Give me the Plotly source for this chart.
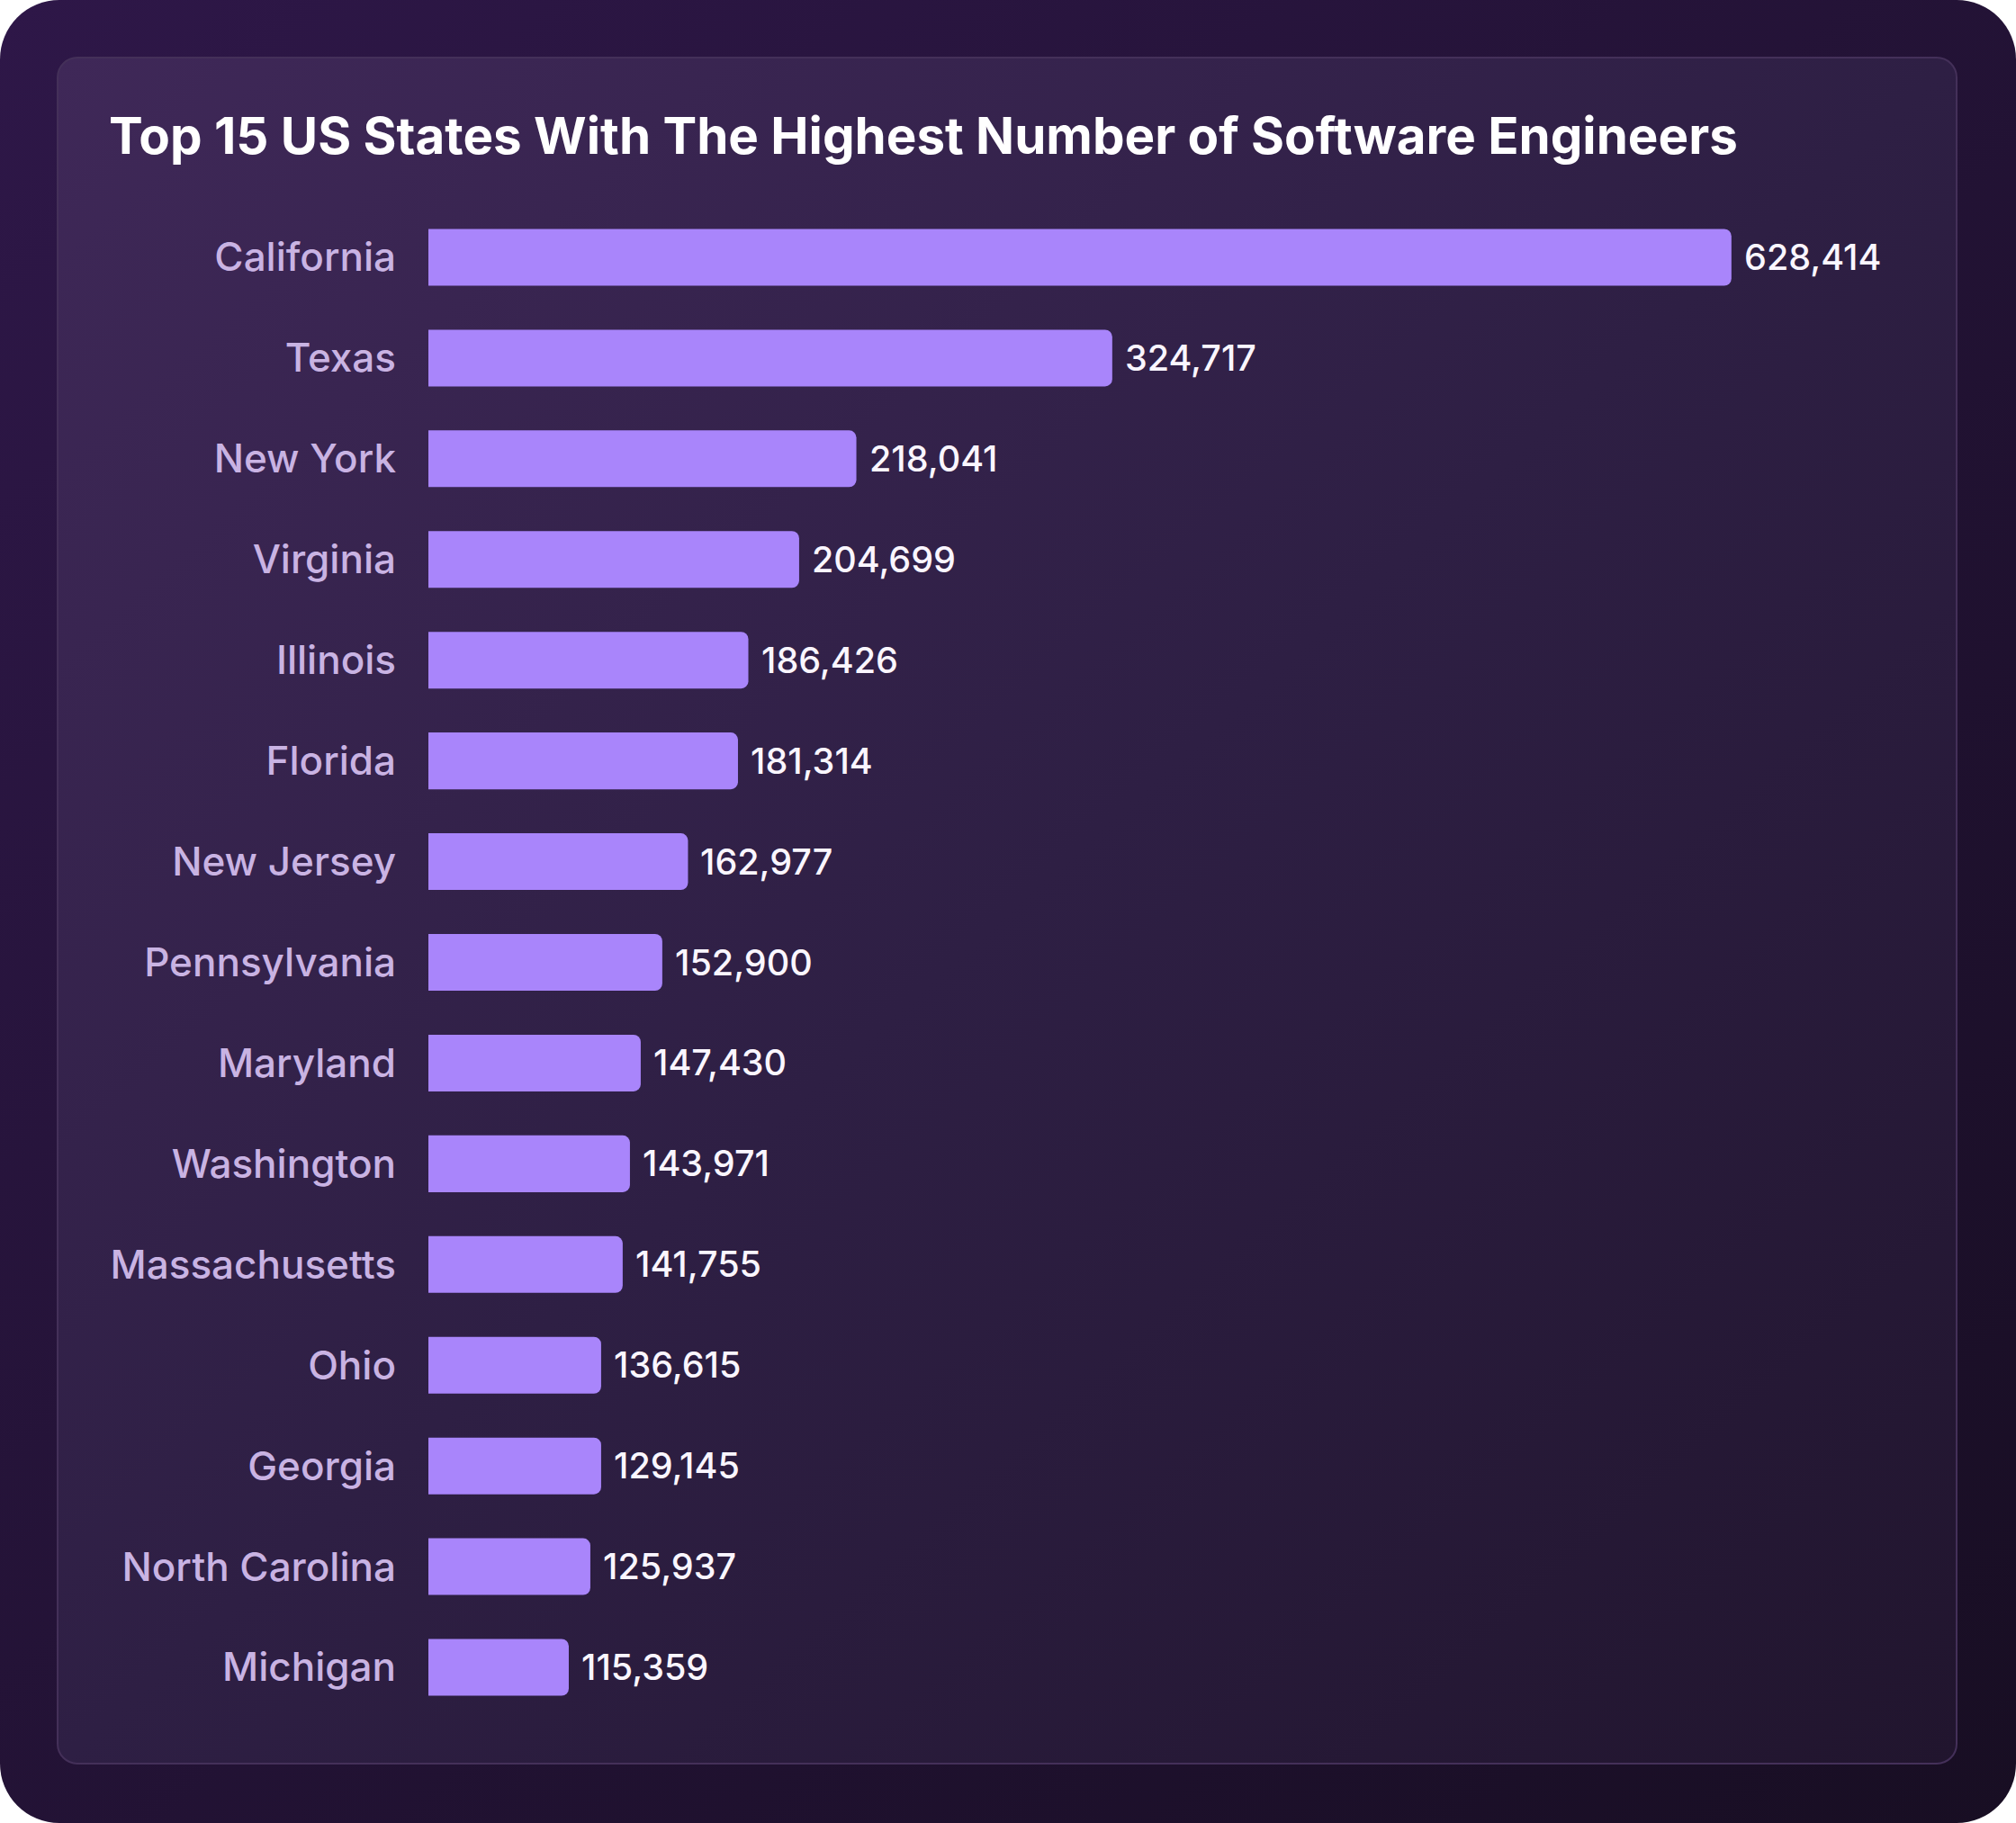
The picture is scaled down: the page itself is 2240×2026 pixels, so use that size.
import base64
import plotly.graph_objects as go

# data
states = ['California', 'Texas', 'New York', 'Virginia', 'Illinois', 'Florida',
          'New Jersey', 'Pennsylvania', 'Maryland', 'Washington', 'Massachusetts',
          'Ohio', 'Georgia', 'North Carolina', 'Michigan']
engineers = [628414, 324717, 218041, 204699, 186426, 181314, 162977, 152900,
             147430, 143971, 141755, 136615, 129145, 125937, 115359]
# bars in the source are not drawn to scale with their labels;
# these are the lengths as drawn, expressed on the California scale
bar_drawn = [628414, 329800, 206400, 178800, 154300, 149300, 125200, 112800,
             102400, 97200, 93700, 83300, 83300, 78100, 67700]

W, H = 2240, 2026
ml, mr, mt, mb = 476, 66, 230, 117
pw, ph = W - ml - mr, H - mt - mb

# card background (rounded, gradient) as an svg image
svg = f'''<svg xmlns="http://www.w3.org/2000/svg" width="{W}" height="{H}" viewBox="0 0 {W} {H}">
<defs>
<linearGradient id="o" x1="0" y1="0" x2="1" y2="1">
<stop offset="0" stop-color="#2e1748"/><stop offset="1" stop-color="#180e23"/></linearGradient>
<linearGradient id="i" x1="0" y1="0" x2="1" y2="1">
<stop offset="0" stop-color="#3f2858"/><stop offset="0.5" stop-color="#2e1f44"/><stop offset="1" stop-color="#21152e"/></linearGradient>
</defs>
<rect x="0" y="0" width="{W}" height="{H}" rx="66" fill="url(#o)"/>
<rect x="64" y="64" width="2110" height="1896" rx="22" fill="url(#i)" stroke="#443059" stroke-width="2"/>
</svg>'''
bg_src = 'data:image/svg+xml;base64,' + base64.b64encode(svg.encode()).decode()

fig = go.Figure()
fig.add_trace(go.Bar(
    x=bar_drawn, y=states, orientation='h',
    marker=dict(color='#a985fb', cornerradius=8, line=dict(width=0)),
    width=0.563, hoverinfo='skip',
))

for s, v, b in zip(states, engineers, bar_drawn):
    fig.add_annotation(x=b, y=s, text=f'{v:,}', showarrow=False,
                       xanchor='left', xshift=12,
                       font=dict(family='Inter', size=39.5, color='#faf6ff', weight=500))

fig.add_layout_image(source=bg_src, xref='paper', yref='paper',
                     x=-ml / pw, y=1 + mt / ph, sizex=W / pw, sizey=H / ph,
                     xanchor='left', yanchor='top', sizing='stretch', layer='below')

fig.update_layout(
    width=W, height=H,
    margin=dict(l=ml, r=mr, t=mt, b=mb),
    paper_bgcolor='white', plot_bgcolor='rgba(0,0,0,0)',
    showlegend=False,
    title=dict(text='Top 15 US States With The Highest Number of Software Engineers',
               x=121 / W, xanchor='left', xref='container',
               y=1 - 151 / H, yanchor='middle', yref='container',
               font=dict(family='Inter', size=56.5, color='#ffffff', weight=700)),
    xaxis=dict(range=[0, 737000], visible=False),
    yaxis=dict(categoryorder='array', categoryarray=states, range=[14.5, -0.5],
               showgrid=False, zeroline=False, showline=False, ticks='',
               ticklabelstandoff=35,
               tickfont=dict(family='Inter', size=44, color='#c9b3e3', weight=500)),
)

# drop the default page margin so the card fills the window
fig.write_html('out.html', config={'displayModeBar': False},
               post_script="document.body.style.margin='0';")
